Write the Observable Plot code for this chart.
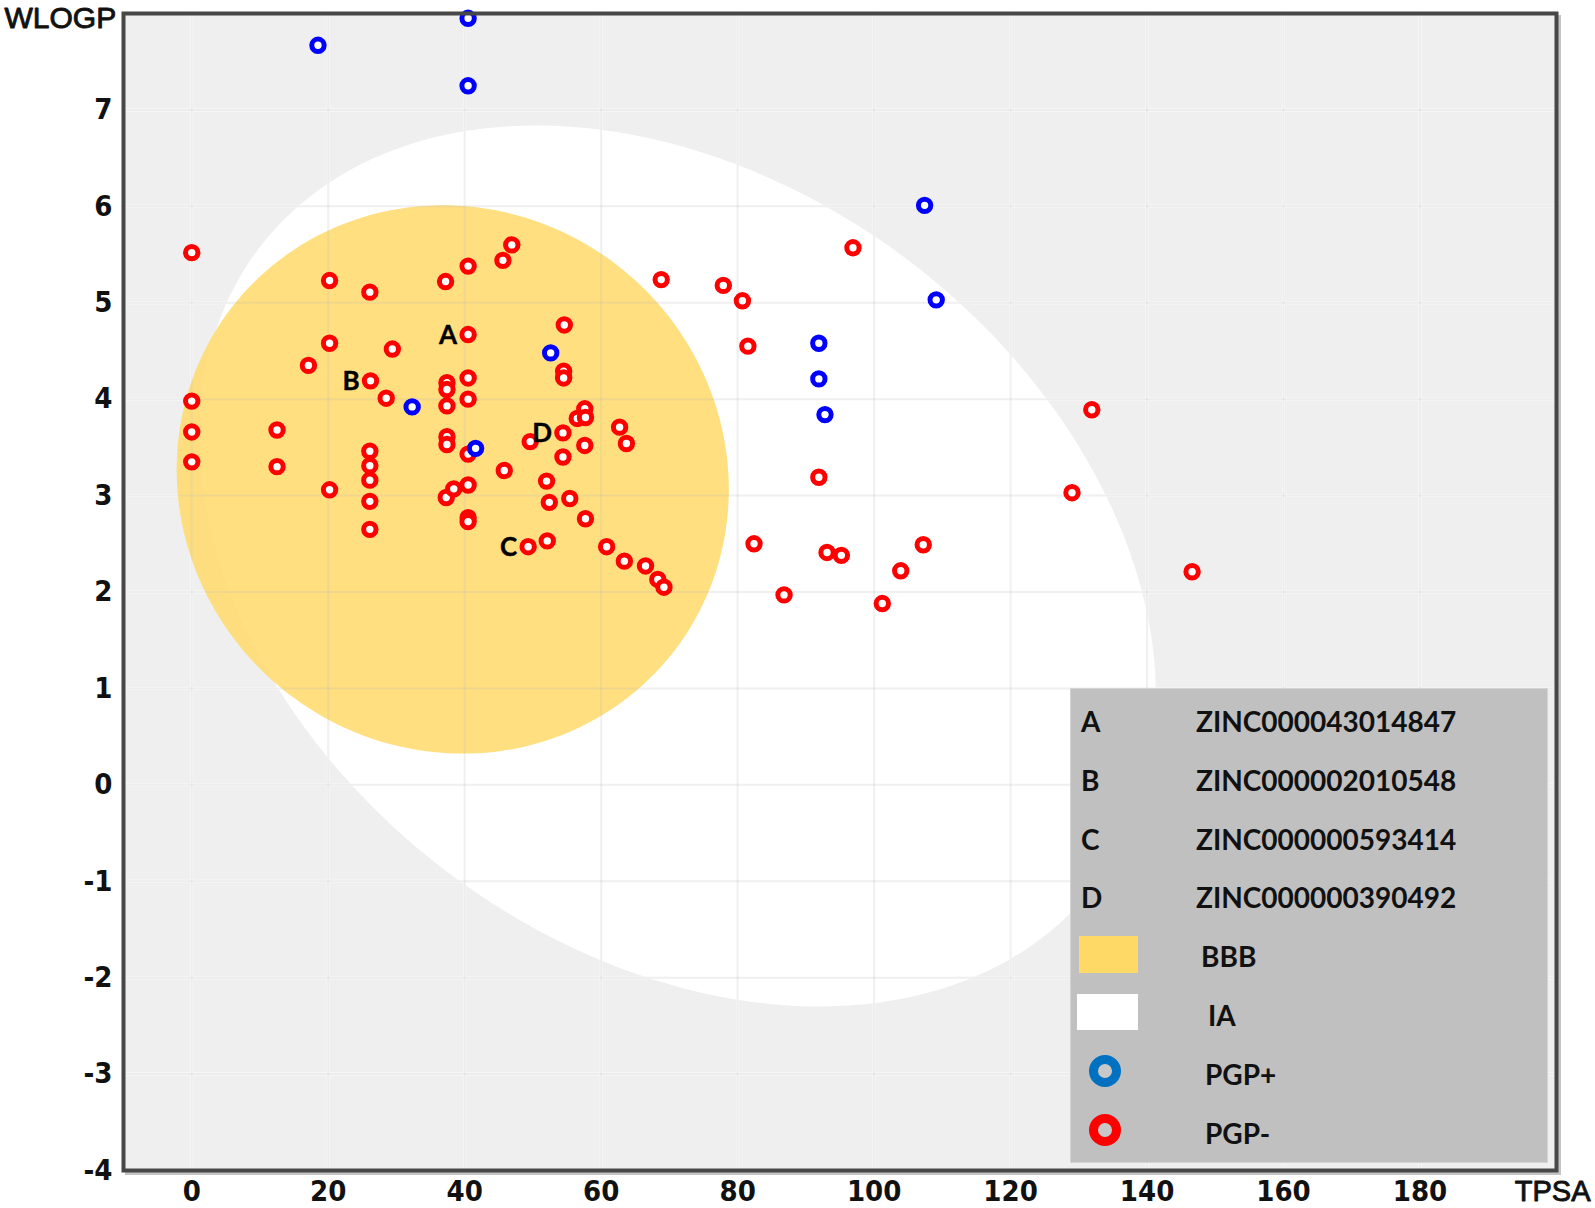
<!DOCTYPE html>
<html>
<head>
<meta charset="utf-8">
<script src="https://cdn.jsdelivr.net/npm/d3@7"></script>
<script src="https://cdn.jsdelivr.net/npm/@observablehq/plot@0.6"></script>
<style>
  html, body { margin: 0; padding: 0; background: #ffffff; }
  #wrap { position: relative; width: 1595px; height: 1208px; }
  #legend { position: absolute; left: 1070px; top: 688px; width: 478px; height: 475px;
    background: #c0c0c0; border: 1px solid #d4d4d4; box-sizing: border-box;
    font-family: Lato, "Open Sans", sans-serif; font-weight: bold; font-size: 28px; color: #111; }
  #legend .t { position: absolute; line-height: 1; transform: translateY(-50%); white-space: nowrap; }
  #legend .sw { position: absolute; }
  #legend .ring { position: absolute; border-radius: 50%; box-sizing: border-box; background: #c8c8c8; }
</style>
</head>
<body>
<div id="wrap"></div>
<script>
// ---- data ----
const xTicks = [0, 20, 40, 60, 80, 100, 120, 140, 160, 180];
const yTicks = [-4, -3, -2, -1, 0, 1, 2, 3, 4, 5, 6, 7];

// PGP+ molecules (TPSA, WLOGP)
const pgpPlusTPSA  = [18.5, 40.5, 40.5, 107.4, 109.1, 91.9, 91.9, 92.8, 52.6, 32.3, 41.6];
const pgpPlusWLOGP = [7.67, 7.95, 7.25, 6.01, 5.03, 4.58, 4.21, 3.84, 4.48, 3.92, 3.49];

// PGP- molecules (TPSA, WLOGP)
const pgpMinusTPSA = [
  0, 0, 0, 0, 12.5, 12.5, 17.1, 20.2, 20.2, 20.2,
  26.1, 26.2, 26.1, 26.1, 26.1, 26.1, 26.1, 28.5, 29.4,
  37.2, 37.4, 37.4, 37.4, 37.4, 37.4, 37.3, 38.4,
  40.5, 40.5, 40.5, 40.5, 40.5, 40.5, 40.5, 40.5,
  45.6, 46.9, 45.8, 49.6, 49.3, 52.0, 52.4, 52.1,
  54.6, 54.5, 54.5, 54.4, 54.4, 55.4, 56.5, 57.6, 57.7, 57.6, 57.7,
  60.8, 62.7, 63.7, 63.4, 66.5, 68.3, 69.2,
  68.8, 77.9, 80.7, 81.5, 96.9, 91.9, 82.4, 86.8, 93.1, 95.2,
  103.9, 101.2, 107.2, 129.0, 131.9, 146.6
];
const pgpMinusWLOGP = [
  5.52, 3.98, 3.66, 3.35, 3.68, 3.30, 4.35, 5.23, 4.58, 3.06,
  5.11, 4.19, 3.46, 3.31, 3.16, 2.94, 2.65, 4.01, 4.52,
  5.22, 4.17, 4.10, 3.93, 3.61, 3.53, 2.98, 3.07,
  5.38, 4.67, 4.22, 4.00, 3.43, 3.11, 2.77, 2.73,
  5.44, 5.60, 3.26, 3.56, 2.47, 3.15, 2.93, 2.53,
  4.77, 4.29, 4.22, 3.65, 3.40, 2.97, 3.80, 3.90, 3.81, 3.52, 2.76,
  2.47, 3.71, 3.54, 2.32, 2.27, 2.13, 2.05,
  5.24, 5.18, 5.02, 4.55, 5.57, 3.19, 2.50, 1.97, 2.41, 2.38,
  2.22, 1.88, 2.49, 3.03, 3.89, 2.21
];

// Labelled molecules
const labelNames = ["A", "B", "C", "D"];
const labelTPSA  = [40.5, 26.2, 49.3, 54.4];
const labelWLOGP = [4.67, 4.19, 2.47, 3.65];
const legendIds  = ["ZINC000043014847", "ZINC000002010548", "ZINC000000593414", "ZINC000000390492"];

// BOILED-Egg regions: centre and semi-axis vectors (data units)
const regionNames = ["IA", "BBB"];
const regionCX  = [71.2, 38.25];
const regionCY  = [2.27, 3.167];
const regionA_x = [61.3, 31.45];
const regionA_y = [-3.30, -1.867];
const regionB_x = [-34.0, -25.45];
const regionB_y = [-3.16, -2.145];
const regionColors = ["#ffffff", "#ffd966"];

// ---- build tables ----
const plus = pgpPlusTPSA.map((x, i) => ({x, y: pgpPlusWLOGP[i]}));
const minus = pgpMinusTPSA.map((x, i) => ({x, y: pgpMinusWLOGP[i]}));
const labels = labelNames.map((n, i) => ({n, x: labelTPSA[i], y: labelWLOGP[i]}));

function outline(k) {
  const pts = [];
  const N = 180;
  for (let i = 0; i < N; i++) {
    const t = 2 * Math.PI * i / N;
    pts.push({
      x: regionCX[k] + regionA_x[k] * Math.cos(t) + regionB_x[k] * Math.sin(t),
      y: regionCY[k] + regionA_y[k] * Math.cos(t) + regionB_y[k] * Math.sin(t)
    });
  }
  return pts;
}
const whiteEgg = outline(0);
const yolk = outline(1);

const tickFont = '"Liberation Sans Narrow", "Arial Narrow", "DejaVu Sans Condensed", sans-serif';

const chart = Plot.plot({
  width: 1595,
  height: 1208,
  marginLeft: 123,
  marginRight: 39,
  marginTop: 13,
  marginBottom: 38,
  style: {fontFamily: tickFont, fontSize: "29px", fontWeight: "bold", color: "#111", background: "#ffffff"},
  x: {domain: [-10, 200], ticks: xTicks, tickSize: 0, tickPadding: 10, tickFormat: d => String(d), label: null},
  y: {domain: [-4, 8], ticks: yTicks, tickSize: 0, tickPadding: 11, tickFormat: d => String(d), label: null},
  marks: [
    Plot.frame({stroke: "#c4c4c4", strokeWidth: 3, dx: 3, dy: 3}),
    Plot.frame({fill: "#efefef", stroke: "none"}),
    Plot.ruleX(xTicks, {stroke: "#ffffff", strokeWidth: 3, strokeOpacity: 0.75}),
    Plot.ruleY(yTicks, {stroke: "#ffffff", strokeWidth: 3, strokeOpacity: 0.75}),
    Plot.line(whiteEgg, {x: "x", y: "y", curve: "linear-closed", fill: regionColors[0], stroke: "none"}),
    Plot.line(yolk, {x: "x", y: "y", curve: "linear-closed", fill: regionColors[1], fillOpacity: 0.84, stroke: "none"}),
    Plot.ruleX(xTicks, {stroke: "#bbbbbb", strokeWidth: 2, strokeOpacity: 0.22}),
    Plot.ruleY(yTicks, {stroke: "#bbbbbb", strokeWidth: 2, strokeOpacity: 0.22}),
    Plot.dot(minus, {x: "x", y: "y", r: 6.2, stroke: "#ff0000", strokeWidth: 5, fill: "#ffffff"}),
    Plot.dot(plus, {x: "x", y: "y", r: 6.2, stroke: "#0000ff", strokeWidth: 5, fill: "#ffffff"}),
    Plot.text(labels, {x: "x", y: "y", text: "n", textAnchor: "end", dx: -11, dy: 1,
      fontFamily: 'Lato, "Open Sans", sans-serif', fontWeight: "bold", fontSize: 26, fill: "#000", stroke: "#000", strokeWidth: 0.4}),
    Plot.frame({stroke: "#474747", strokeWidth: 4}),
    Plot.text(["WLOGP"], {frameAnchor: "top-left", dx: -119, dy: -7, textAnchor: "start",
      fontFamily: '"Liberation Sans", Arial, sans-serif', fontWeight: "normal", fontSize: 30, fill: "#111", stroke: "#111", strokeWidth: 0.9}),
    Plot.text(["TPSA"], {frameAnchor: "bottom-right", dx: 34, dy: 30, textAnchor: "end",
      fontFamily: '"Liberation Sans", Arial, sans-serif', fontWeight: "normal", fontSize: 29, fill: "#111", stroke: "#111", strokeWidth: 0.9})
  ]
});

const wrap = document.getElementById("wrap");
wrap.appendChild(chart);

// ---- legend (inside the plot, lower right) ----
const legend = document.createElement("div");
legend.id = "legend";
wrap.appendChild(legend);
const rowY = i => 32 + 58.8 * i;
function addText(txt, left, top) {
  const d = document.createElement("div");
  d.className = "t";
  d.textContent = txt;
  d.style.left = left + "px";
  d.style.top = top + "px";
  legend.appendChild(d);
}
labelNames.forEach((n, i) => {
  addText(n, 10, rowY(i));
  addText(legendIds[i], 125, rowY(i));
});
// BBB swatch
const sw1 = document.createElement("div");
sw1.className = "sw";
Object.assign(sw1.style, {left: "8px", top: (rowY(4) - 20) + "px", width: "59px", height: "37px", background: regionColors[1]});
legend.appendChild(sw1);
addText(regionNames[1], 130, rowY(4));
// IA swatch
const sw2 = document.createElement("div");
sw2.className = "sw";
Object.assign(sw2.style, {left: "6px", top: (rowY(5) - 21) + "px", width: "61px", height: "36px", background: regionColors[0]});
legend.appendChild(sw2);
addText(regionNames[0], 137, rowY(5));
// PGP markers
const legendMarkers = [["PGP+", "#0070c0"], ["PGP-", "#ff0000"]];
legendMarkers.forEach(([name, col], j) => {
  const cy = rowY(6 + j) - 3;
  const r = document.createElement("div");
  r.className = "ring";
  Object.assign(r.style, {left: (34 - 16) + "px", top: (cy - 16) + "px", width: "32px", height: "32px", border: "9px solid " + col});
  legend.appendChild(r);
  addText(name, 134, rowY(6 + j));
});
</script>
</body>
</html>
